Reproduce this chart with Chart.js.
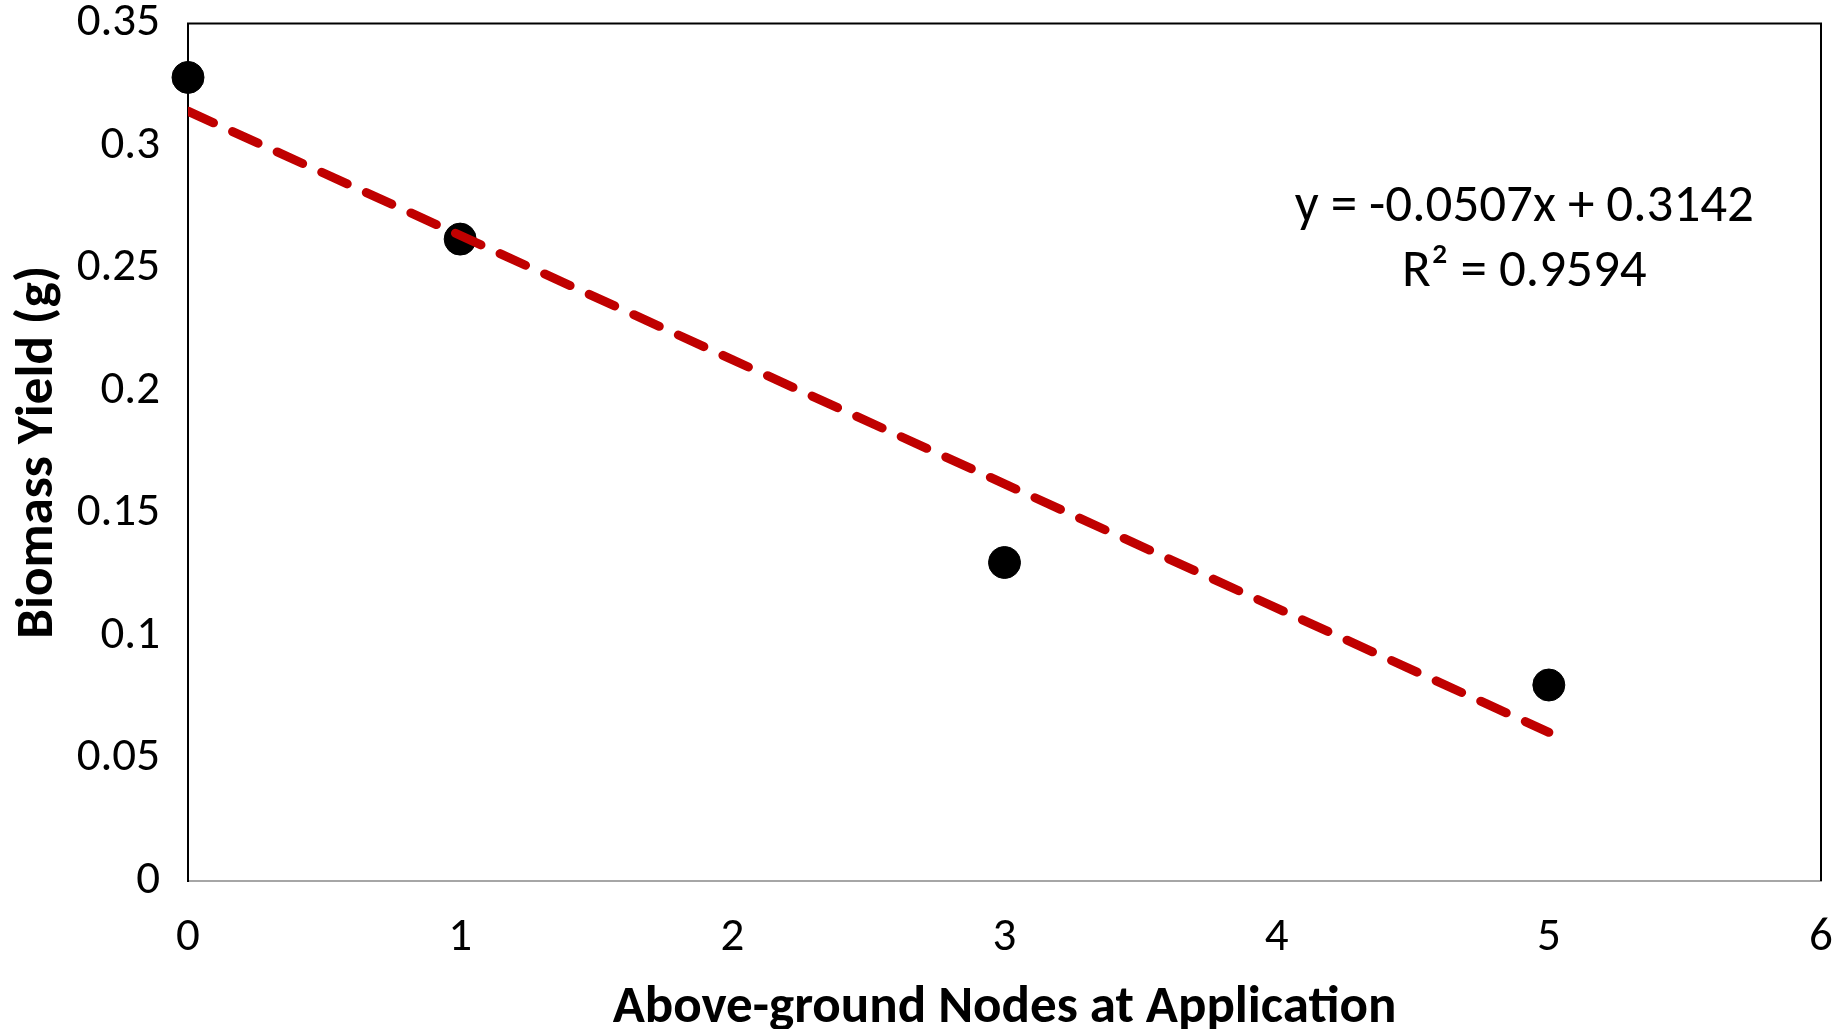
<!DOCTYPE html>
<html>
<head>
<meta charset="utf-8">
<title>Biomass Yield</title>
<script src="https://cdn.jsdelivr.net/npm/chart.js@4.4.1/dist/chart.umd.min.js"></script>
<style>
  html, body { margin: 0; padding: 0; background: #fff; }
  #wrap { width: 1845px; height: 1029px; }
</style>
</head>
<body>
<div id="wrap"><canvas id="biomassChart" width="1845" height="1029"></canvas></div>
<script>
// Data
const nodes = [0, 1, 3, 5];
const biomass = [0.328, 0.262, 0.130, 0.080];
const trendSlope = -0.0507;
const trendIntercept = 0.3142;
const trendRange = [0, 5];
const xTickLabels = ['0', '1', '2', '3', '4', '5', '6'];
const yTickLabels = ['0', '0.05', '0.1', '0.15', '0.2', '0.25', '0.3', '0.35'];
const equationLines = ['y = -0.0507x + 0.3142', 'R² = 0.9594'];

const FONT = 'Carlito, Calibri, Lato, sans-serif';

const points = nodes.map((n, i) => ({ x: n, y: biomass[i] }));
const trend = trendRange.map(x => ({ x: x, y: trendSlope * x + trendIntercept }));


// Plot frame (top/left/right) and the trendline equation
    const framePlugin = {
        id: 'frame',
        beforeDatasetsDraw(chart) {
            const { ctx, chartArea: a } = chart;
            ctx.save();
            ctx.strokeStyle = '#000';
            ctx.lineWidth = 2;
            ctx.beginPath();
            ctx.moveTo(a.left, a.bottom);
            ctx.lineTo(a.left, a.top);
            ctx.lineTo(a.right, a.top);
            ctx.lineTo(a.right, a.bottom);
            ctx.stroke();
            ctx.restore();
        },
        afterDatasetsDraw(chart) {
            const { ctx, scales } = chart;
            const cx = scales.x.getPixelForValue(4.91);
            const cy = scales.y.getPixelForValue(0.275);
            ctx.save();
            ctx.fillStyle = '#000';
            ctx.font = '53px ' + FONT;
            ctx.textAlign = 'center';
            ctx.textBaseline = 'middle';
            ctx.fillText(equationLines[0], cx, cy);
            ctx.fillText(equationLines[1], cx, cy + 65);
            ctx.restore();
        }
    };


// Scatter chart with linear trendline
    const ctx = document.getElementById('biomassChart').getContext('2d');
    const biomassChart = new Chart(ctx, {
        type: 'scatter',
        data: {
            datasets: [{
                type: 'line',
                label: 'Trend',
                data: trend,
                borderColor: '#c00000',
                borderWidth: 9,
                borderDash: [28, 21],
                borderCapStyle: 'round',
                pointRadius: 0,
                fill: false,
                order: 0
            }, {
                label: 'Biomass',
                data: points,
                backgroundColor: '#000',
                borderColor: '#000',
                pointRadius: 16,
                pointHoverRadius: 16,
                clip: false,
                order: 1
            }]
        },
        options: {
            responsive: false,
            animation: false,
            layout: { padding: { top: 23, right: 24, left: 0, bottom: 0 } },
            plugins: {
                legend: { display: false },
                tooltip: { enabled: false }
            },
            scales: {
                x: {
                    type: 'linear',
                    min: 0,
                    max: 6,
                    afterFit: s => { s.height = 148; },
                    grid: { display: false, drawTicks: true, tickLength: 29 },
                    border: { display: true, color: '#a6a6a6', width: 2 },
                    ticks: {
                        stepSize: 1,
                        padding: 0,
                        color: '#000',
                        font: { family: FONT, size: 47, lineHeight: 1.2 },
                        callback: (v, i) => xTickLabels[i]
                    },
                    title: {
                        display: true,
                        text: 'Above-ground Nodes at Application',
                        color: '#000',
                        font: { family: FONT, size: 53, weight: 'bold', lineHeight: 0.78 },
                        padding: { top: 0, bottom: 0 }
                    }
                },
                y: {
                    min: 0,
                    max: 0.35,
                    afterFit: s => { s.width = 188; },
                    grid: { display: false, drawTicks: true, tickLength: 28 },
                    border: { display: true, color: '#000', width: 2 },
                    ticks: {
                        stepSize: 0.05,
                        padding: 0,
                        color: '#000',
                        font: { family: FONT, size: 47, lineHeight: 1 },
                        callback: (v, i) => yTickLabels[i]
                    },
                    title: {
                        display: true,
                        text: 'Biomass Yield (g)',
                        color: '#000',
                        font: { family: FONT, size: 53, weight: 'bold', lineHeight: 1 },
                        padding: { top: 12, bottom: 0 }
                    }
                }
            }
        },
        plugins: [framePlugin]
    });
</script>
</body>
</html>
